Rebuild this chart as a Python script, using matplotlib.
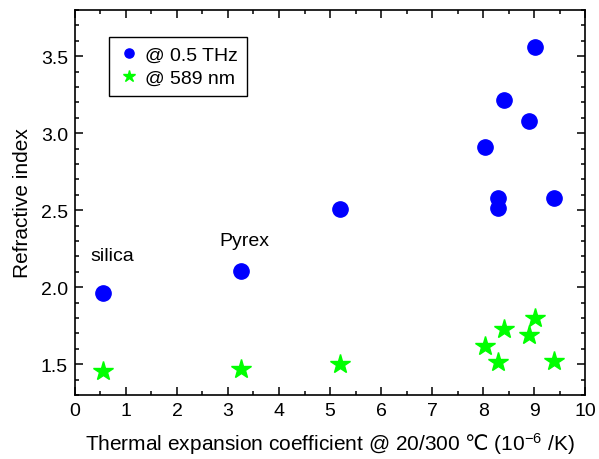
import matplotlib
matplotlib.use("Agg")
import matplotlib.pyplot as plt
from matplotlib.ticker import MultipleLocator

plt.rcParams.update({
    "font.family": ["Liberation Sans", "DejaVu Sans"],
    "mathtext.fontset": "custom",
    "mathtext.rm": "Liberation Sans",
    "mathtext.sf": "DejaVu Sans",
    "mathtext.default": "rm",
    "font.size": 14,
})

# thermal expansion coefficient (10^-6 /K)
cte_thz = [0.55, 3.26, 5.2, 8.04, 8.29, 8.29, 8.40, 8.90, 9.01, 9.39]
n_thz = [1.965, 2.103, 2.507, 2.91, 2.58, 2.515, 3.217, 3.08, 3.56, 2.58]

cte_vis = [0.55, 3.26, 5.2, 8.04, 8.29, 8.40, 8.90, 9.01, 9.39]
n_vis = [1.458, 1.472, 1.504, 1.618, 1.517, 1.728, 1.69, 1.80, 1.524]

labels = [("silica", 0.74, 2.206), ("Pyrex", 3.32, 2.306)]

fig = plt.figure(figsize=(5.99, 4.60), dpi=100)
ax = fig.add_axes([0.125, 0.139, 0.852, 0.837])

ax.plot(cte_thz, n_thz, "o", color="#0000ff", markersize=11, label="@ 0.5 THz",
        linestyle="none")
ax.plot(cte_vis, n_vis, "*", color="#00ff00", markersize=15, label="@ 589 nm",
        linestyle="none")

for txt, x, y in labels:
    ax.text(x, y, txt, ha="center", va="center")

ax.set_xlim(0, 10)
ax.set_ylim(1.3, 3.8)
ax.xaxis.set_major_locator(MultipleLocator(1))
ax.xaxis.set_minor_locator(MultipleLocator(0.5))
ax.yaxis.set_major_locator(MultipleLocator(0.5))
ax.yaxis.set_minor_locator(MultipleLocator(0.1))
ax.tick_params(which="both", direction="in", top=True, right=True, width=1.1)
ax.tick_params(which="major", length=5.5, pad=5)
ax.tick_params(which="minor", length=3)
for s in ax.spines.values():
    s.set_linewidth(1.2)

# the degree-Celsius sign is missing from Liberation Sans, take it from DejaVu
ax.set_xlabel("Thermal expansion coefficient @ 20/300 $\\mathsf{\u2103}$ (10$^{-6}$ /K)",
              fontsize=15, labelpad=8)
ax.set_ylabel("Refractive index", fontsize=15, labelpad=6)

leg = ax.legend(loc="upper left", bbox_to_anchor=(0.067, 0.93), markerscale=0.6,
                fancybox=False, edgecolor="black", framealpha=1,
                handletextpad=0.2, borderpad=0.45, handlelength=1.2,
                labelspacing=0.3, borderaxespad=0)
leg.get_frame().set_linewidth(1.0)

fig.savefig("out.png", dpi=100)
